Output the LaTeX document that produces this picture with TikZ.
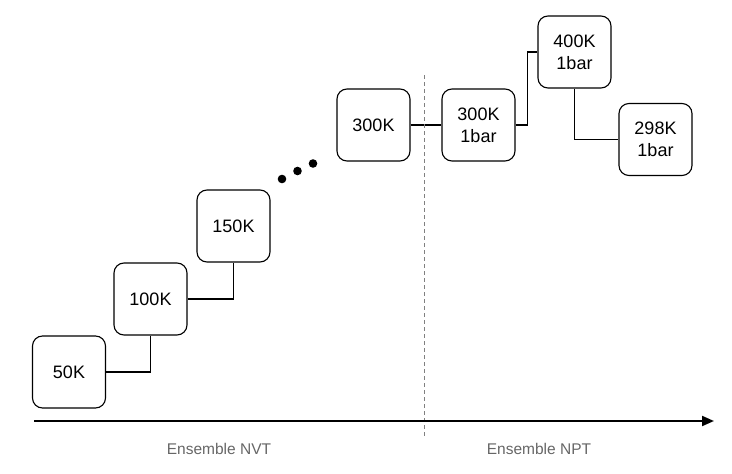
\documentclass[tikz,border=0pt]{standalone}
\usepackage{fontspec}
\setmainfont{Liberation Sans}
\usetikzlibrary{arrows.meta}
\begin{document}
\begin{tikzpicture}[x=1pt,y=-1pt,
  stage/.style={draw=black,line width=1.1pt,rounded corners=10pt,minimum width=73pt,minimum height=72pt,inner sep=0pt,align=center,font=\fontsize{18}{22}\selectfont},
  link/.style={draw=black,line width=1.1pt},
  ens/.style={text=black!60,font=\fontsize{15.5}{18}\selectfont}]
\useasboundingbox (0,0) rectangle (732,474);
\node[stage] (a50) at (69,372) {50K};
\node[stage] (a100) at (150.5,299) {100K};
\node[stage] (a150) at (233.5,226) {150K};
\node[stage] (a300) at (373.5,125) {300K};
\node[stage] (b300) at (478.5,125) {300K\\1bar};
\node[stage] (b400) at (574.5,52) {400K\\1bar};
\node[stage] (b298) at (655.5,139.5) {298K\\1bar};
\draw[link] (a50.east) -| (a100.south);
\draw[link] (a100.east) -| (a150.south);
\draw[link] (a300.east) -- (b300.west);
\draw[link] (b300.east) -- ++(12,0) |- (b400.west);
\draw[link] (b400.south) |- (b298.west);
\fill (282,179) circle (4.3);
\fill (297.5,171) circle (4.3);
\fill (313,163.5) circle (4.3);
\coordinate (dtop) at (424,75);
\coordinate (dbot) at (424,437);
\draw[black!50,dashed,line width=0.8pt,dash pattern=on 4pt off 3pt] (dtop) -- (dbot);
\coordinate (ax0) at (34,421);
\coordinate (ax1) at (714,421);
\draw[line width=2pt,-{Triangle[length=12pt,width=10pt]}] (ax0) -- (ax1);
\node[ens] (nvt) at (219,449) {Ensemble NVT};
\node[ens] (npt) at (539,449) {Ensemble NPT};
\end{tikzpicture}
\end{document}
